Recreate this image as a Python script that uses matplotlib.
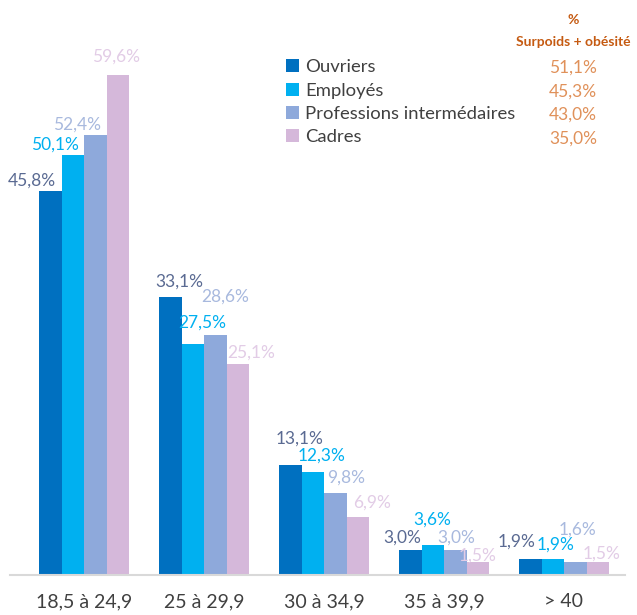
import matplotlib
matplotlib.use("Agg")
import matplotlib.pyplot as plt
import numpy as np

plt.rcParams["font.family"] = ["Lato", "DejaVu Sans"]

# data (percent)
groups = ["18,5 à 24,9", "25 à 29,9", "30 à 34,9", "35 à 39,9", "> 40"]
series = ["Ouvriers", "Employés", "Professions intermédaires", "Cadres"]
ouvriers = [45.8, 33.1, 13.1, 3.0, 1.9]
employes = [50.1, 27.5, 12.3, 3.6, 1.9]
prof_inter = [52.4, 28.6, 9.8, 3.0, 1.6]
cadres = [59.6, 25.1, 6.9, 1.5, 1.5]
surpoids = ["51,1%", "45,3%", "43,0%", "35,0%"]

BAR_COLORS = ["#0070C0", "#00B0F0", "#8EA9DB", "#D5B8DA"]
LABEL_COLORS = ["#5A6A92", "#00B0F0", "#A8B9DE", "#E2CCE6"]

# hand-placed label nudges (pixels) per series, per group, as in the original
NUDGE = [
    [(-18, 10), (9, 16), (9, 26), (-8, 12), (-14, 17)],
    [(-18, 10), (9, 22), (9, 16), (0, 25), (3, 14)],
    [(-18, 11), (10, 38), (11, 15), (1, 12), (2, 32)],
    [(-2, 18), (13, 12), (14, 14), (0, 7), (4, 9)],
]


def fmt(v):
    return f"{v:.1f}%".replace(".", ",")


W, H = 637, 615
fig = plt.figure(figsize=(W / 100, H / 100), dpi=100)
base_px = 575
ax = fig.add_axes([10 / W, (H - base_px) / H, 615 / W, base_px / H])

x = np.arange(len(groups))
bw = 0.1875
values = [ouvriers, employes, prof_inter, cadres]
for i, (name, vals) in enumerate(zip(series, values)):
    xs = x + (i - 1.5) * bw
    ax.bar(xs, vals, width=bw, color=BAR_COLORS[i], label=name, zorder=2)
    for j, (xx, v) in enumerate(zip(xs, vals)):
        dx, dy = NUDGE[i][j]
        ax.annotate(fmt(v), (xx, v), xytext=(dx, dy), textcoords="offset pixels",
                    ha="center", va="center", fontsize=12.5,
                    color=LABEL_COLORS[i], annotation_clip=False)

ax.set_xlim((10 - 84) / 120, (625 - 84) / 120)
ax.set_ylim(0, base_px / 8.39)
ax.set_xticks(x)
ax.set_xticklabels(groups, fontsize=14, color="#404040")
ax.tick_params(axis="x", length=0, pad=13)
ax.set_yticks([])
for s in ["top", "left", "right"]:
    ax.spines[s].set_visible(False)
ax.spines["bottom"].set_color("#D9D9D9")
ax.spines["bottom"].set_linewidth(1.5)

leg = fig.legend(loc="upper left", bbox_to_anchor=(279 / W, 1 - 52 / H),
                 frameon=False, fontsize=13.3, handlelength=0.7, handleheight=0.7,
                 handletextpad=0.3, labelspacing=0.39, borderaxespad=0)
for t in leg.get_texts():
    t.set_color("#404040")

# side column: % overweight + obesity
fig.text(573 / W, 1 - 20 / H, "%", ha="center", va="center", fontsize=10,
         fontweight="bold", color="#C55A11")
fig.text(573 / W, 1 - 42 / H, "Surpoids + obésité", ha="center", va="center",
         fontsize=10, fontweight="bold", color="#C55A11")
for k, s in enumerate(surpoids):
    fig.text(573 / W, 1 - (68 + k * 23.5) / H, s, ha="center", va="center",
             fontsize=12.5, color="#E0915A")

fig.savefig("out.png", dpi=100)
